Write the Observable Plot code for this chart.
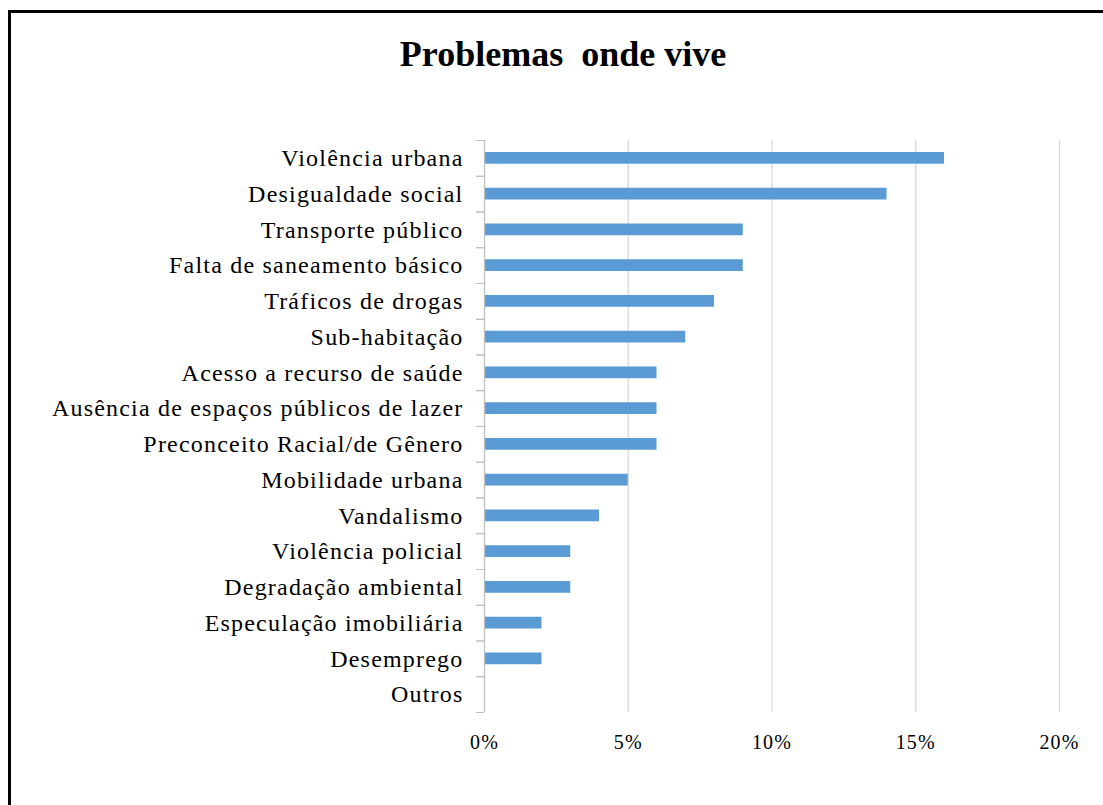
<!DOCTYPE html>
<html><head><meta charset="utf-8">
<script src="https://cdn.jsdelivr.net/npm/d3@7"></script>
<script src="https://cdn.jsdelivr.net/npm/@observablehq/plot@0.6"></script>
<style>
body{margin:0;background:#fff;}
#wrap{position:relative;width:1103px;height:805px;overflow:hidden;background:#fff;}
#frame{position:absolute;left:8px;top:10px;width:1300px;height:1000px;border:3px solid #000;box-sizing:border-box;}
#title{position:absolute;left:0;width:1126px;top:33px;text-align:center;font:bold 36px "Liberation Serif",serif;color:#000;white-space:pre;}
#chart{position:absolute;left:0;top:0;}
</style></head><body>
<div id="wrap"><div id="frame"></div><div id="title">Problemas  onde vive</div><div id="chart"></div></div>
<script>
const categories = [
  "Violência urbana",
  "Desigualdade social",
  "Transporte público",
  "Falta de saneamento básico",
  "Tráficos de drogas",
  "Sub-habitação",
  "Acesso a recurso de saúde",
  "Ausência de espaços públicos de lazer",
  "Preconceito Racial/de Gênero",
  "Mobilidade urbana",
  "Vandalismo",
  "Violência policial",
  "Degradação ambiental",
  "Especulação imobiliária",
  "Desemprego",
  "Outros"
];
const values = [16, 14, 9, 9, 8, 7, 6, 6, 6, 5, 4, 3, 3, 2, 2, 0];
const xTicks = [0, 5, 10, 15, 20];
const data = categories.map((c, i) => ({category: c, value: values[i]}));
const top0 = 140, bottom0 = 712;
const step = (bottom0 - top0) / categories.length;
const chart = Plot.plot({
  width: 1103, height: 805,
  marginLeft: 484, marginRight: 44, marginTop: top0, marginBottom: 805 - bottom0,
  style: {fontFamily: '"Liberation Serif", serif', fontSize: "24px", letterSpacing: "1.2px", color: "#000", background: "transparent"},
  x: {domain: [0, 20], label: null},
  y: {domain: categories, padding: 0, round: false, label: null},
  marks: [
    Plot.ruleX(xTicks.slice(1), {stroke: "#d9d9d9", strokeWidth: 1.3, strokeOpacity: 1}),
    Plot.barX(data, {y: "category", x: "value", fill: "#5b9bd5", insetTop: 12, insetBottom: 12}),
    Plot.ruleX([0], {stroke: "#bfbfbf", strokeWidth: 1.3, strokeOpacity: 1}),
    Plot.axisY({tickSize: 0, tickPadding: 21, fontSize: 24, fill: "#000", label: null}),
    Plot.axisY({tickSize: 8, tickFormat: () => "", dy: -step / 2, stroke: "#bfbfbf", strokeOpacity: 1, label: null}),
    Plot.axisY({tickSize: 8, tickFormat: () => "", dy: step / 2, stroke: "#bfbfbf", strokeOpacity: 1, label: null}),
    Plot.axisX(xTicks, {tickSize: 0, tickPadding: 22, fontSize: 20, fill: "#000", label: null, tickFormat: d => d + "%"})
  ]
});
document.getElementById("chart").appendChild(chart);
</script>
</body></html>
